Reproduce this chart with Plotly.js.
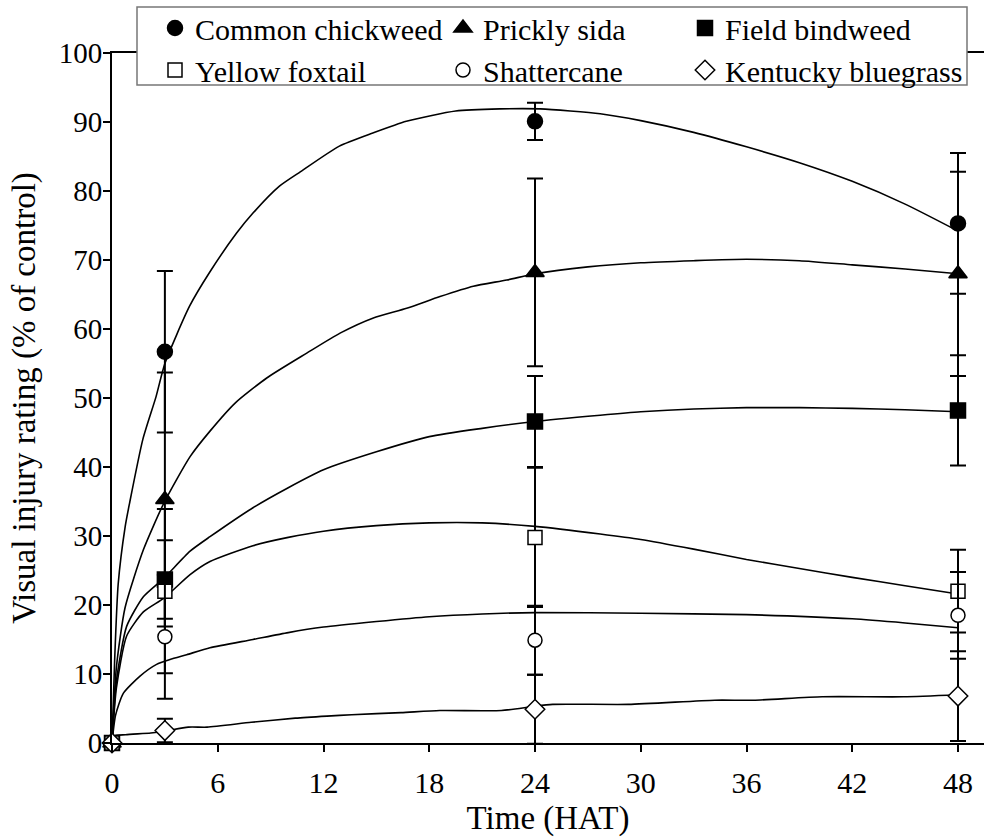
<!DOCTYPE html>
<html>
<head>
<meta charset="utf-8">
<script src="https://cdn.plot.ly/plotly-3.0.1.min.js"></script>
<style>html,body{margin:0;padding:0;background:#fff;}#chart{width:984px;height:837px;}</style>
</head>
<body>
<div id="chart"></div>
<script>
// ---- Observed means (markers) ----
const timePoints = [0, 3, 24, 48];
const chickweedMean = [0, 56.7, 90.1, 75.3];
const chickweedErr  = [0, 11.7, 2.7, 10.2];
const sidaMean      = [0, 35.3, 68.2, 68.0];
const sidaErr       = [0, 18.4, 13.6, 14.8];
const bindweedMean  = [0, 23.7, 46.6, 48.2];
const bindweedErr   = [0, 5.7, 6.6, 8.0];
const foxtailMean   = [0, 22.0, 29.8, 22.0];
const foxtailErr    = [0, 11.9, 10.1, 6.0];
const shatterMean   = [0, 15.4, 14.9, 18.5];
const shatterErr    = [0, 9.0, 5.0, 6.3];
const bluegrassMean = [0, 1.8, 4.9, 6.8];
const bluegrassErr  = [0, 1.7, 5.0, 6.5];

// ---- Fitted curves ----
const chickweedCurveX = [0, 0.15, 0.35, 0.75, 1.0, 1.75, 2.5, 3, 4.4, 5.56, 7.07, 8, 9.5, 10.7, 12.9, 14.8, 16.7, 19.5, 22, 24.3, 27.7, 30, 33, 36, 39, 42, 45, 48];
const chickweedCurveY = [0, 12, 23, 31.4, 34.8, 44.0, 50.2, 55.0, 63.3, 68.3, 73.9, 76.8, 80.7, 82.8, 86.5, 88.4, 90.1, 91.6, 91.9, 91.9, 91.2, 90.2, 88.5, 86.4, 84.1, 81.4, 78.1, 74.2];
const sidaCurveX = [0, 0.25, 0.74, 1.78, 2.95, 4.43, 5.56, 7, 8.78, 11.05, 12.94, 14.83, 16.72, 18.61, 20.5, 22.4, 24, 27, 30, 33, 36, 39, 42, 45, 48];
const sidaCurveY = [0, 11, 19.6, 28.0, 34.8, 41.5, 45.2, 49.3, 52.9, 56.5, 59.4, 61.6, 63.0, 64.7, 66.2, 67.1, 68.0, 69.0, 69.6, 69.9, 70.1, 69.9, 69.3, 68.7, 68.0];
const bindweedCurveX = [0, 0.25, 0.83, 1.78, 2.95, 4.43, 5.56, 8, 10, 12, 15, 18, 21, 24, 27.7, 30, 33, 36, 39, 42, 45, 48];
const bindweedCurveY = [0, 9, 16.9, 21.2, 23.9, 27.8, 29.9, 34.1, 37.0, 39.6, 42.2, 44.4, 45.6, 46.6, 47.5, 48.0, 48.4, 48.6, 48.6, 48.5, 48.3, 48.0];
const foxtailCurveX = [0, 0.25, 0.83, 1.78, 2.95, 4.43, 5.56, 8, 10, 12, 15, 18, 21, 24, 27.7, 30, 33, 36, 39, 42, 45, 48];
const foxtailCurveY = [0, 8, 15.5, 19.0, 21.0, 24.4, 26.3, 28.6, 29.8, 30.7, 31.5, 31.9, 31.9, 31.4, 30.3, 29.5, 28.1, 26.6, 25.3, 24.0, 22.8, 21.6];
const shatterCurveX = [0, 0.2, 0.64, 1.59, 2.53, 3.29, 4.24, 5.56, 8, 10, 12, 15, 18, 21, 24, 30, 36, 42, 45, 48];
const shatterCurveY = [0, 4, 7.2, 9.7, 11.4, 12.1, 12.8, 13.8, 15.0, 16.0, 16.8, 17.6, 18.3, 18.7, 18.9, 18.8, 18.6, 18.0, 17.4, 16.7];
const bluegrassCurveX = [0, 0.1, 0.77, 2.2, 2.98, 4.33, 5.4, 7.9, 10.4, 12.2, 13.6, 16.4, 18.6, 22.1, 23.9, 25, 29.3, 34.2, 36.4, 40.3, 44.9, 48];
const bluegrassCurveY = [0, 1.0, 1.2, 1.45, 1.7, 2.3, 2.3, 3.0, 3.6, 3.9, 4.1, 4.4, 4.7, 4.7, 5.3, 5.6, 5.6, 6.2, 6.2, 6.7, 6.7, 7.0];

const seriesNames = ['Common chickweed', 'Prickly sida', 'Field bindweed', 'Yellow foxtail', 'Shattercane', 'Kentucky bluegrass'];
const xTicks = [0, 6, 12, 18, 24, 30, 36, 42, 48];
const yTicks = [0, 10, 20, 30, 40, 50, 60, 70, 80, 90, 100];

const FONT = 'Liberation Serif, Times New Roman, serif';

const curves = [
  [chickweedCurveX, chickweedCurveY],
  [sidaCurveX, sidaCurveY],
  [bindweedCurveX, bindweedCurveY],
  [foxtailCurveX, foxtailCurveY],
  [shatterCurveX, shatterCurveY],
  [bluegrassCurveX, bluegrassCurveY]
];
const means = [chickweedMean, sidaMean, bindweedMean, foxtailMean, shatterMean, bluegrassMean];
const errs = [chickweedErr, sidaErr, bindweedErr, foxtailErr, shatterErr, bluegrassErr];
const symbols = ['circle', 'triangle-up', 'square', 'square', 'circle', 'diamond'];
const fills = ['#000', '#000', '#000', '#fff', '#fff', '#fff'];
const sizes = [15, 16, 15, 14, 14, 15];
const legendIds = ['legend', 'legend2', 'legend3', 'legend', 'legend2', 'legend3'];

const data = [];
curves.forEach(function (c) {
  data.push({
    x: c[0], y: c[1], type: 'scatter', mode: 'lines',
    line: {color: '#000', width: 1.6, shape: 'spline', smoothing: 0.6},
    showlegend: false, hoverinfo: 'skip', cliponaxis: false
  });
});
means.forEach(function (m, i) {
  data.push({
    x: timePoints, y: m, type: 'scatter', mode: 'markers', name: seriesNames[i],
    legend: legendIds[i],
    marker: {symbol: symbols[i], size: sizes[i], color: fills[i], line: {color: '#000', width: 1.5}},
    error_y: {type: 'data', array: errs[i], visible: true, color: '#000', thickness: 2, width: 8},
    cliponaxis: false
  });
});

const W = 984, H = 837;
const mL = 112, mR = 0, mT = 53, mB = 94;
const pw = W - mL - mR, ph = H - mT - mB;
function px(p) { return (p - mL) / pw; }
function py(p) { return (H - mB - p) / ph; }

const legendCommon = {
  orientation: 'v', xanchor: 'left', yanchor: 'top',
  bgcolor: 'rgba(0,0,0,0)', borderwidth: 0,
  font: {family: FONT, size: 30, color: '#000'},
  itemwidth: 30, tracegroupgap: 0, y: py(2)
};

const layout = {
  width: W, height: H,
  margin: {l: mL, r: mR, t: mT, b: mB, pad: 0},
  paper_bgcolor: '#fff', plot_bgcolor: '#fff',
  font: {family: FONT, color: '#000'},
  xaxis: {
    range: [0, 48 * pw / 846], tickvals: xTicks, ticktext: xTicks.map(String),
    showgrid: false, zeroline: false, showline: true, linecolor: '#000', linewidth: 2,
    mirror: true, ticks: 'outside', ticklen: 7, tickwidth: 2, tickcolor: '#000',
    tickfont: {family: FONT, size: 30, color: '#000'}, ticklabelstandoff: 5,
    title: {text: 'Time (HAT)', font: {family: FONT, size: 33, color: '#000'}, standoff: 10},
    automargin: false
  },
  yaxis: {
    range: [0, 100], tickvals: yTicks, ticktext: yTicks.map(String),
    showgrid: false, zeroline: false, showline: true, linecolor: '#000', linewidth: 2,
    ticks: 'outside', ticklen: 7, tickwidth: 2, tickcolor: '#000',
    tickfont: {family: FONT, size: 29, color: '#000'}, ticklabelstandoff: -5,
    title: {text: 'Visual injury rating (% of control)', font: {family: FONT, size: 33, color: '#000'}, standoff: 13},
    automargin: false
  },
  legend: Object.assign({}, legendCommon, {x: px(155)}),
  legend2: Object.assign({}, legendCommon, {x: px(443)}),
  legend3: Object.assign({}, legendCommon, {x: px(685)}),
  shapes: [
    {type: 'rect', xref: 'paper', yref: 'paper', x0: px(137), x1: px(967), y0: py(85), y1: py(7),
     fillcolor: '#fff', line: {color: '#777', width: 1.5}, layer: 'above'}
  ]
};

Plotly.newPlot('chart', data, layout, {displayModeBar: false, staticPlot: true});
</script>
</body>
</html>
